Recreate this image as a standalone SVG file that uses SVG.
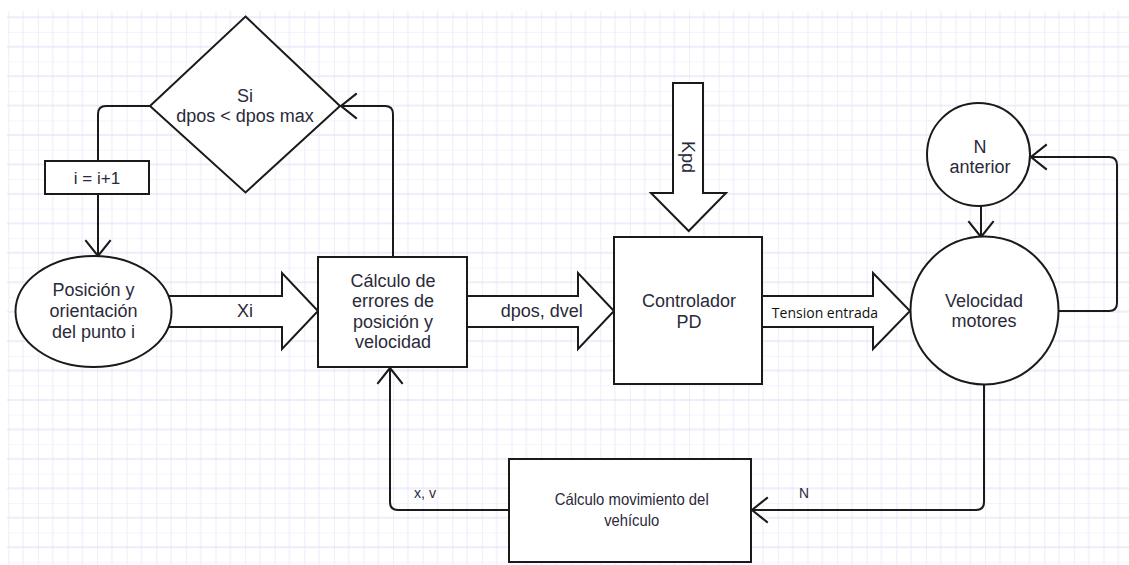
<svg xmlns="http://www.w3.org/2000/svg" width="1129" height="565" viewBox="0 0 1129 565">
<defs>
<pattern id="grid" patternUnits="userSpaceOnUse" x="8.3" y="2.56" width="29.6" height="29.44">
<rect x="0" y="0" width="29.6" height="29.44" fill="#ffffff"/>
<line x1="14.8" y1="0" x2="14.8" y2="29.44" stroke="#efeefb" stroke-width="1.2"/>
<line x1="0" y1="14.72" x2="29.6" y2="14.72" stroke="#e4e2f7" stroke-width="1.2"/>
<line x1="0" y1="0" x2="0" y2="29.44" stroke="#e4e2f7" stroke-width="1.2"/>
<line x1="0" y1="0" x2="29.6" y2="0" stroke="#efeefb" stroke-width="1.2"/>
</pattern>
<marker id="open" markerUnits="userSpaceOnUse" markerWidth="20" markerHeight="30" viewBox="-17 -14 19 28" refX="0" refY="0" orient="auto">
<path d="M-15,-12 L0,0 L-15,12" fill="none" stroke="#1a1a1a" stroke-width="2"/>
</marker>
<style>
.n{fill:#fff;stroke:#1a1a1a;stroke-width:2}
.c{fill:none;stroke:#1a1a1a;stroke-width:2;marker-end:url(#open)}
.l{fill:none;stroke:#1a1a1a;stroke-width:2}
.t{font-family:"Liberation Sans",Arial,sans-serif;font-size:18px;fill:#2a2a3a;text-anchor:middle}
.s{font-family:"Liberation Sans",Arial,sans-serif;font-size:16.5px;fill:#2a2a3a;text-anchor:middle}
.lb{font-family:"Liberation Sans",Arial,sans-serif;font-size:15.5px;fill:#2a2a3a;text-anchor:middle}
.te{font-family:"Open Sans","Noto Sans",sans-serif;font-size:14px;fill:#111;text-anchor:middle}
</style>
</defs>
<rect x="0" y="0" width="1129" height="565" fill="#ffffff"/>
<rect x="7" y="11" width="1122" height="554" fill="url(#grid)"/>

<g id="connectors">
<path class="l" d="M150,106 H106 Q98,106 98,114 V161"/>
<path class="c" d="M98,194 V256"/>
<path class="c" d="M393,257 V114 Q393,106 385,106 H341"/>
<path class="c" d="M1058,311 H1109 Q1117,311 1117,303 V165 Q1117,157 1109,157 H1031"/>
<path class="c" d="M981,204 V237"/>
<path class="c" d="M984,385 V502 Q984,510 976,510 H752"/>
<path class="c" d="M509,510 H398 Q390,510 390,502 V368"/>
<polygon class="n" points="165,296 282,296 282,273 318,311 282,349 282,327 165,327"/>
<polygon class="n" points="467,296 578,296 578,273 614,311 578,349 578,327 467,327"/>
<polygon class="n" points="762,296 873,296 873,273 910,311 873,349 873,327 762,327"/>
<polygon class="n" points="673,83 703,83 703,193 726,193 688.7,231 651,193 673,193"/>
<text class="t" x="245" y="317">Xi</text>
<text class="t" x="541.7" y="317">dpos, dvel</text>
<text class="te" x="825" y="317.5">Tension entrada</text>
<text class="t" transform="translate(682,157) rotate(90)" x="0" y="0">Kpd</text>
<text class="lb" x="425" y="498" textLength="22" lengthAdjust="spacingAndGlyphs">x, v</text>
<text class="lb" x="804" y="498" textLength="10" lengthAdjust="spacingAndGlyphs">N</text>
</g>

<g id="decision">
<polygon class="n" points="245.5,16.5 340,106 245.5,192.5 150,106"/>
<text class="t" x="245" y="102">Si</text>
<text class="t" x="245" y="122">dpos &lt; dpos max</text>
</g>

<g id="increment">
<rect class="n" x="45" y="161" width="104" height="33"/>
<text class="t" x="97" y="184" style="font-size:17px">i = i+1</text>
</g>

<g id="punto">
<ellipse class="n" cx="93.5" cy="311.5" rx="78" ry="55.5"/>
<text class="t" x="93.5" y="296">Posición y</text>
<text class="t" x="93.5" y="317">orientación</text>
<text class="t" x="93.5" y="338">del punto i</text>
</g>

<g id="errores">
<rect class="n" x="318" y="257" width="149" height="110"/>
<text class="t" x="393" y="286.5">Cálculo de</text>
<text class="t" x="393" y="307">errores de</text>
<text class="t" x="393" y="327.5">posición y</text>
<text class="t" x="393" y="348">velocidad</text>
</g>

<g id="controlador">
<rect class="n" x="614" y="237" width="148" height="147"/>
<text class="t" x="689" y="307">Controlador</text>
<text class="t" x="689" y="327.5">PD</text>
</g>

<g id="velocidad">
<circle class="n" cx="984.5" cy="310.5" r="74"/>
<text class="t" x="984" y="306.5">Velocidad</text>
<text class="t" x="984" y="327">motores</text>
</g>

<g id="nanterior">
<circle class="n" cx="978.5" cy="154.5" r="51.5"/>
<text class="t" x="980" y="152.5">N</text>
<text class="t" x="980" y="172.7">anterior</text>
</g>

<g id="movimiento">
<rect class="n" x="509" y="459" width="242" height="103"/>
<text class="s" x="631.7" y="505" textLength="154" lengthAdjust="spacingAndGlyphs">Cálculo movimiento del</text>
<text class="s" x="631.7" y="526" textLength="55" lengthAdjust="spacingAndGlyphs">vehículo</text>
</g>
</svg>
